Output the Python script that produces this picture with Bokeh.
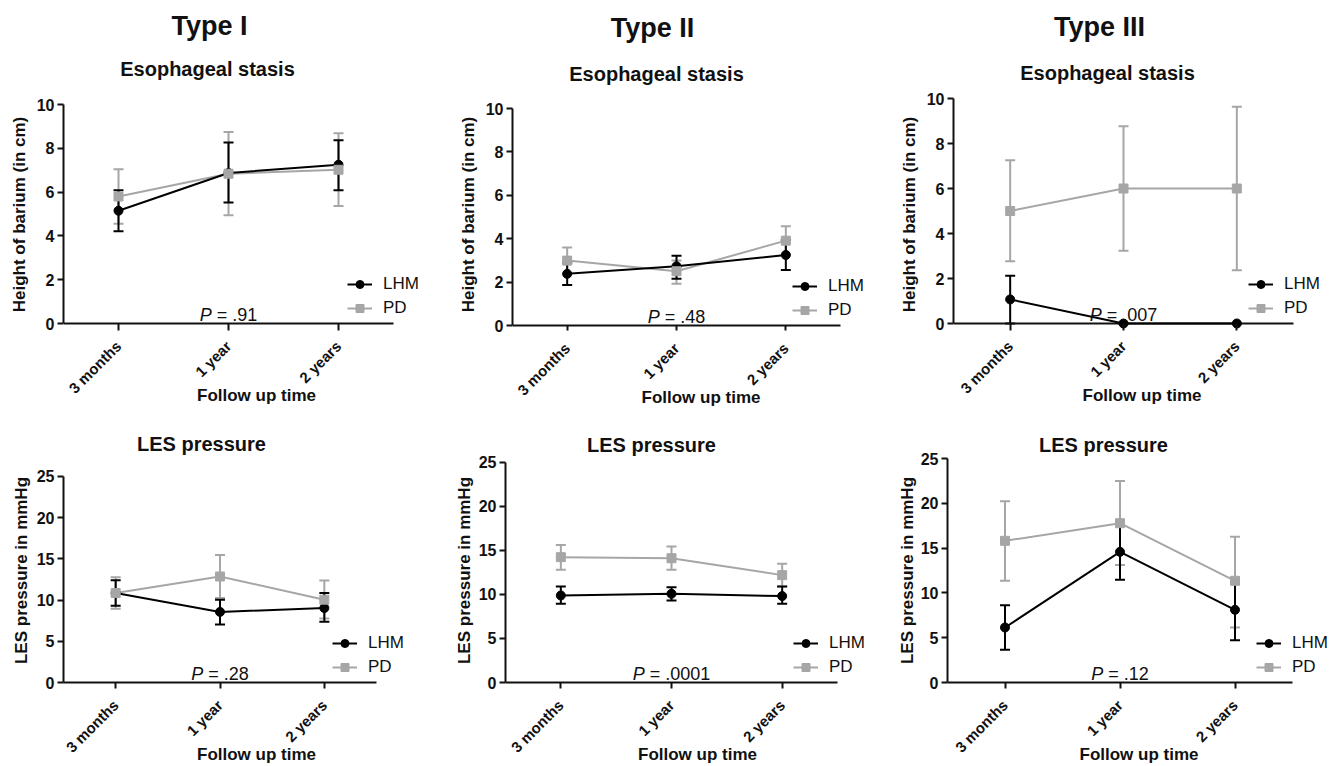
import math
from bokeh.plotting import figure
from bokeh.models import (ColumnDataSource, Whisker, TeeHead, Legend, LegendItem,
                          Title, Label, Range1d, FixedTicker)
from bokeh.layouts import row, column
from bokeh.embed import file_html
from bokeh.resources import INLINE

FONT = "Liberation Sans"
BLACK = "#000000"
GRAY = "#a6a6a6"
INK = "#111111"

# ---------------- data ----------------
categories = ["3 months", "1 year", "2 years"]
type_names = ["Type I", "Type II", "Type III"]
stasis_title = "Esophageal stasis"
les_title = "LES pressure"
stasis_ylabel = "Height of barium (in cm)"
les_ylabel = "LES pressure in mmHg"
xlabel = "Follow up time"
series_names = ["LHM", "PD"]

stasis_ticks = [0, 2, 4, 6, 8, 10]
les_ticks = [0, 5, 10, 15, 20, 25]

# Type I - esophageal stasis
t1_stasis_lhm = [5.15, 6.87, 7.25]
t1_stasis_lhm_lo = [4.21, 5.52, 6.08]
t1_stasis_lhm_hi = [6.08, 8.27, 8.37]
t1_stasis_pd = [5.80, 6.84, 7.02]
t1_stasis_pd_lo = [4.56, 4.94, 5.36]
t1_stasis_pd_hi = [7.04, 8.75, 8.69]
t1_stasis_p = ".91"

# Type II - esophageal stasis
t2_stasis_lhm = [2.38, 2.73, 3.25]
t2_stasis_lhm_lo = [1.87, 2.15, 2.56]
t2_stasis_lhm_hi = [2.89, 3.22, 3.94]
t2_stasis_pd = [2.99, 2.50, 3.91]
t2_stasis_pd_lo = [2.38, 1.92, 3.25]
t2_stasis_pd_hi = [3.60, 3.00, 4.57]
t2_stasis_p = ".48"

# Type III - esophageal stasis
t3_stasis_lhm = [1.07, 0.0, 0.0]
t3_stasis_lhm_lo = [0.0, 0.0, 0.0]
t3_stasis_lhm_hi = [2.12, 0.0, 0.0]
t3_stasis_pd = [5.00, 6.00, 6.00]
t3_stasis_pd_lo = [2.77, 3.23, 2.37]
t3_stasis_pd_hi = [7.26, 8.77, 9.63]
t3_stasis_p = ".007"

# Type I - LES pressure
t1_les_lhm = [10.85, 8.56, 9.04]
t1_les_lhm_lo = [9.30, 7.03, 7.36]
t1_les_lhm_hi = [12.40, 10.05, 10.85]
t1_les_pd = [10.85, 12.86, 10.05]
t1_les_pd_lo = [8.96, 10.25, 7.76]
t1_les_pd_hi = [12.78, 15.47, 12.38]
t1_les_p = ".28"

# Type II - LES pressure
t2_les_lhm = [9.89, 10.08, 9.82]
t2_les_lhm_lo = [8.95, 9.32, 8.95]
t2_les_lhm_hi = [10.90, 10.83, 10.90]
t2_les_pd = [14.24, 14.12, 12.20]
t2_les_pd_lo = [12.80, 12.80, 10.90]
t2_les_pd_hi = [15.63, 15.44, 13.48]
t2_les_p = ".0001"

# Type III - LES pressure
t3_les_lhm = [6.14, 14.58, 8.11]
t3_les_lhm_lo = [3.65, 11.46, 4.72]
t3_les_lhm_hi = [8.63, 17.70, 11.50]
t3_les_pd = [15.81, 17.78, 11.35]
t3_les_pd_lo = [11.35, 13.10, 6.14]
t3_les_pd_hi = [20.24, 22.50, 16.26]
t3_les_p = ".12"

# ---------------- layout (pixels) ----------------
# rows: y0 = page top of row, h = row height, ftop/fbot = shared frame top/bottom
ROWS = [dict(y0=0, h=412, ftop=98, fbot=330),
        dict(y0=412, h=354, ftop=458, fbot=683)]
# per panel: w = figure width, l = frame left, aw = x-axis length,
# ytop/yzero = pixel rows of the top tick and of zero,
# tc/hc = centre of subtitle/header (rel. frame left), ts/hs = title standoffs,
# lg = legend position (rel. zero line / frame left), yls = y-axis label standoff
LAYOUT = [
    [dict(w=450, l=63, aw=330, ytop=104, yzero=323, tc=144, hc=147, ts=38, hs=-9, lg=(284, 5), yls=5),
     dict(w=440, l=62, aw=328, ytop=108, yzero=325, tc=144, hc=141, ts=28, hs=8, lg=(280, 5), yls=5),
     dict(w=441, l=63, aw=340, ytop=98, yzero=323, tc=154, hc=147, ts=30, hs=6, lg=(295, 5), yls=5)],
    [dict(w=450, l=63, aw=313, ytop=476, yzero=683, tc=138, ts=8, lg=(269, 5), yls=3),
     dict(w=440, l=55, aw=332, ytop=462, yzero=683, tc=146, ts=6, lg=(288, 5), yls=2),
     dict(w=441, l=57, aw=345, ytop=458, yzero=683, tc=156, ts=6, lg=(309, 5), yls=1)],
]

BOLD_W = {' ': 278, 'E': 667, 's': 556, 'o': 611, 'p': 611, 'h': 611, 'a': 556, 'g': 611,
          'e': 556, 'l': 278, 't': 333, 'i': 278, 'L': 611, 'S': 667, 'r': 389, 'u': 611,
          'T': 611, 'y': 556, 'I': 278}
REG_W = {'P': 667, '=': 584, '.': 278, ' ': 278}


def bold_w(s, size):
    return sum(BOLD_W.get(c, 556) for c in s) / 1000 * size


def reg_w(s, size):
    return sum(REG_W.get(c, 556) for c in s) / 1000 * size


def style_title(t, text, size, offset_centre, standoff):
    t.text = text
    t.text_font = FONT
    t.text_font_size = f"{size}px"
    t.text_font_style = "bold"
    t.text_color = INK
    t.align = "left"
    t.offset = offset_centre - bold_w(text, size) / 2
    t.standoff = standoff


def make_panel(rw, cfg, title, ylabel, ticks, lhm, lhm_lo, lhm_hi, pd_, pd_lo, pd_hi, ptxt,
               header=None):
    n = len(categories)
    xs = list(range(n))
    unit = cfg["aw"] / n
    right_pad = 1
    fw = cfg["w"] - cfg["l"] - right_pad
    x_end = -0.5 + fw / unit

    yunit = (cfg["yzero"] - cfg["ytop"]) / (ticks[-1] - ticks[0])
    below0 = rw["fbot"] - cfg["yzero"]
    y_start = ticks[0] - below0 / yunit
    y_end = ticks[-1] + (cfg["ytop"] - rw["ftop"]) / yunit

    p = figure(width=cfg["w"], height=rw["h"],
               x_range=Range1d(-0.5, x_end),
               y_range=Range1d(y_start, y_end),
               output_backend="svg", toolbar_location=None,
               min_border_left=cfg["l"], min_border_top=rw["ftop"] - rw["y0"],
               min_border_right=right_pad,
               min_border_bottom=rw["y0"] + rw["h"] - rw["fbot"])
    p.outline_line_color = None
    p.xgrid.visible = False
    p.ygrid.visible = False
    p.background_fill_color = "white"
    p.border_fill_color = "white"

    if header is not None:
        style_title(p.title, header, 27, cfg["hc"], cfg["hs"])
        sub = Title(text=title)
        style_title(sub, title, 20, cfg["tc"], cfg["ts"])
        p.add_layout(sub, "above")
    else:
        style_title(p.title, title, 20, cfg["tc"], cfg["ts"])

    for ax in (p.xaxis[0], p.yaxis[0]):
        ax.axis_line_width = 2
        ax.axis_line_color = INK
        ax.major_tick_line_width = 2
        ax.major_tick_line_color = INK
        ax.major_tick_out = 6
        ax.major_tick_in = 0
        ax.minor_tick_line_color = None
        ax.major_label_text_font = FONT
        ax.major_label_text_font_style = "bold"
        ax.major_label_text_font_size = "15px"
        ax.major_label_text_color = INK
        ax.axis_label_text_font = FONT
        ax.axis_label_text_font_style = "bold"
        ax.axis_label_text_font_size = "17px"
        ax.axis_label_text_color = INK
    p.yaxis.ticker = FixedTicker(ticks=ticks)
    p.yaxis.bounds = (ticks[0], ticks[-1])
    p.yaxis.major_label_text_font_size = "16px"
    p.yaxis.major_label_standoff = 3
    p.yaxis.axis_label = ylabel
    p.yaxis.axis_label_standoff = cfg["yls"]
    p.xaxis.ticker = FixedTicker(ticks=xs)
    p.xaxis.major_label_overrides = {i: c for i, c in enumerate(categories)}
    p.xaxis.bounds = (-0.5, n - 0.5)
    p.xaxis.major_label_orientation = math.pi / 4
    p.xaxis.axis_label = xlabel
    p.xaxis.axis_label_standoff = -20
    if below0 > 0.5:
        # zero line drawn inside the frame so that markers sitting on zero are not cut;
        # the ticks run from the zero line down to the frame edge
        b = int(round(below0))
        p.xaxis.axis_line_color = None
        p.xaxis.major_tick_out = 0
        p.xaxis.major_tick_in = b
        p.xaxis.major_label_standoff = 14 + 6 - b
        p.segment(x0=[-0.5], y0=[ticks[0]], x1=[n - 0.5], y1=[ticks[0]],
                  line_color=INK, line_width=2)
    else:
        p.xaxis.major_label_standoff = 14

    src_l = ColumnDataSource(dict(x=xs, y=lhm, lo=lhm_lo, hi=lhm_hi))
    src_p = ColumnDataSource(dict(x=xs, y=pd_, lo=pd_lo, hi=pd_hi))

    for src, col in ((src_p, GRAY), (src_l, BLACK)):
        p.add_layout(Whisker(base="x", lower="lo", upper="hi", source=src,
                             line_color=col, line_width=2,
                             upper_head=TeeHead(size=10, line_color=col, line_width=2),
                             lower_head=TeeHead(size=10, line_color=col, line_width=2)))

    pl = p.line("x", "y", source=src_p, line_color=GRAY, line_width=2)
    ll = p.line("x", "y", source=src_l, line_color=BLACK, line_width=2)
    ls = p.scatter("x", "y", source=src_l, marker="circle", size=9,
                   fill_color=BLACK, line_color=BLACK)
    ps = p.scatter("x", "y", source=src_p, marker="square", size=9,
                   fill_color=GRAY, line_color=GRAY)

    lgx, lgy = cfg["lg"]
    legend = Legend(items=[LegendItem(label=series_names[0], renderers=[ll, ls]),
                           LegendItem(label=series_names[1], renderers=[pl, ps])],
                    location=(lgx, lgy + int(round(below0))), padding=0, spacing=4, margin=0,
                    glyph_width=25, glyph_height=20, label_height=20, label_standoff=11,
                    label_text_font=FONT, label_text_font_size="17px",
                    label_text_color=INK,
                    border_line_alpha=0, background_fill_alpha=0)
    p.add_layout(legend)

    psize = 18
    rest = "= " + ptxt
    wp = reg_w("P ", psize)
    W = wp + reg_w(rest, psize)
    xc = categories.index("1 year")
    p.add_layout(Label(x=xc, y=ticks[0], x_offset=-W / 2, y_offset=9, text="P",
                       text_font=FONT, text_font_size=f"{psize}px", text_font_style="italic",
                       text_color=INK, text_align="left", text_baseline="alphabetic"))
    p.add_layout(Label(x=xc, y=ticks[0], x_offset=-W / 2 + wp, y_offset=9, text=rest,
                       text_font=FONT, text_font_size=f"{psize}px",
                       text_color=INK, text_align="left", text_baseline="alphabetic"))
    return p


top = [
    make_panel(ROWS[0], LAYOUT[0][0], stasis_title, stasis_ylabel, stasis_ticks,
               t1_stasis_lhm, t1_stasis_lhm_lo, t1_stasis_lhm_hi,
               t1_stasis_pd, t1_stasis_pd_lo, t1_stasis_pd_hi, t1_stasis_p, type_names[0]),
    make_panel(ROWS[0], LAYOUT[0][1], stasis_title, stasis_ylabel, stasis_ticks,
               t2_stasis_lhm, t2_stasis_lhm_lo, t2_stasis_lhm_hi,
               t2_stasis_pd, t2_stasis_pd_lo, t2_stasis_pd_hi, t2_stasis_p, type_names[1]),
    make_panel(ROWS[0], LAYOUT[0][2], stasis_title, stasis_ylabel, stasis_ticks,
               t3_stasis_lhm, t3_stasis_lhm_lo, t3_stasis_lhm_hi,
               t3_stasis_pd, t3_stasis_pd_lo, t3_stasis_pd_hi, t3_stasis_p, type_names[2]),
]
bottom = [
    make_panel(ROWS[1], LAYOUT[1][0], les_title, les_ylabel, les_ticks,
               t1_les_lhm, t1_les_lhm_lo, t1_les_lhm_hi,
               t1_les_pd, t1_les_pd_lo, t1_les_pd_hi, t1_les_p),
    make_panel(ROWS[1], LAYOUT[1][1], les_title, les_ylabel, les_ticks,
               t2_les_lhm, t2_les_lhm_lo, t2_les_lhm_hi,
               t2_les_pd, t2_les_pd_lo, t2_les_pd_hi, t2_les_p),
    make_panel(ROWS[1], LAYOUT[1][2], les_title, les_ylabel, les_ticks,
               t3_les_lhm, t3_les_lhm_lo, t3_les_lhm_hi,
               t3_les_pd, t3_les_pd_lo, t3_les_pd_hi, t3_les_p),
]

page = column(row(*top, spacing=0), row(*bottom, spacing=0), spacing=0)
open("out.html", "w").write(file_html(page, INLINE))
